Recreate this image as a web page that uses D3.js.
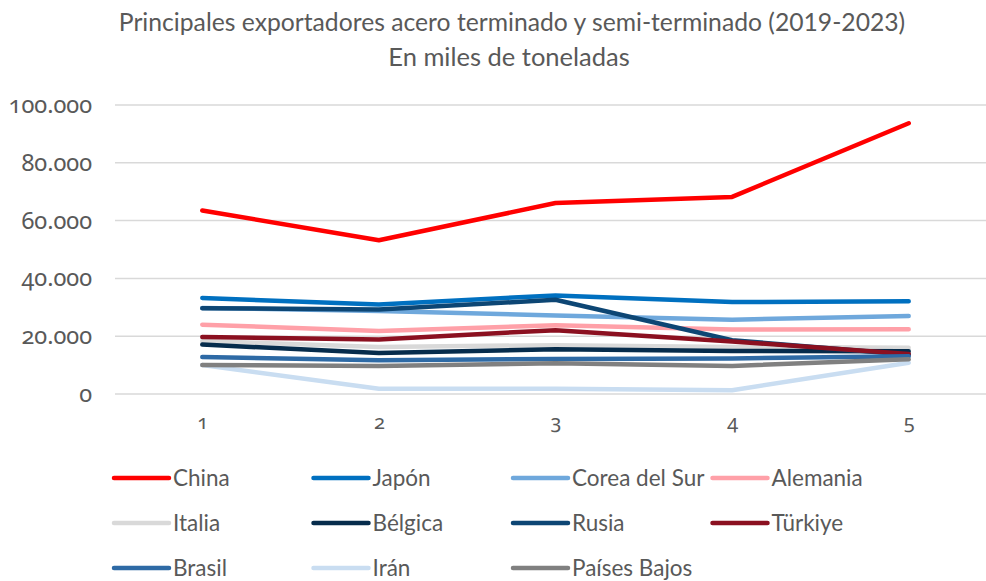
<!DOCTYPE html>
<html>
<head>
<meta charset="utf-8">
<script src="https://cdn.jsdelivr.net/npm/d3@7"></script>
<style>
  body{margin:0;background:#fff;}
  svg text{font-family:Lato,"Open Sans",sans-serif;fill:#595959;}
  svg .axis text{font-family:"Noto Sans",Lato,sans-serif;font-feature-settings:"onum" 1;font-variant-numeric:oldstyle-nums;}
</style>
</head>
<body>
<div id="svg-container"></div>
<script>
const categories=["1","2","3","4","5"];
const seriesNames=["China","Japón","Corea del Sur","Alemania","Italia","Bélgica","Rusia","Türkiye","Brasil","Irán","Países Bajos"];
const china=[63500,53200,66100,68200,93700];
const japon=[33200,31000,34100,31800,32100];
const corea=[29800,28700,27200,25700,27000];
const alemania=[24000,21800,23800,22300,22400];
const italia=[18300,16300,16900,16300,16000];
const belgica=[17100,14200,15500,14900,14800];
const rusia=[29700,29200,32600,18600,13600];
const turkiye=[19700,18900,22100,18200,13800];
const brasil=[12800,11700,12100,12300,13100];
const iran=[10000,1800,1800,1300,10800];
const paisesBajos=[10000,9700,10600,9700,12000];
const yTicks=[0,20000,40000,60000,80000,100000];

const colors=["#ff0000","#0070c0","#6fa8dc","#ffa0a8","#d9d9d9","#062c4c","#0d4674","#8b1020","#2e6aa5","#c9ddf1","#808080"];
const values=[china,japon,corea,alemania,italia,belgica,rusia,turkiye,brasil,iran,paisesBajos];

const w=986;
const h=581;

const locale=d3.formatLocale({decimal:",",thousands:".",grouping:[3],currency:["",""]});
const fmt=locale.format(",.0f");

const xScale=d3.scalePoint()
                .domain(categories)
                .range([114,997])
                .padding(0.5);
const yScale=d3.scaleLinear()
                .domain([0,100000])
                .range([394,105]);

const svg=d3.select("#svg-container")
              .append("svg")
              .attr("width",w)
              .attr("height",h);

// title
svg.append("text")
    .text("Principales exportadores acero terminado y semi-terminado (2019-2023)")
    .attr("x",512)
    .attr("y",31)
    .attr("text-anchor","middle")
    .style("font-size","24.7px");
svg.append("text")
    .text("En miles de toneladas")
    .attr("x",509)
    .attr("y",66)
    .attr("text-anchor","middle")
    .style("font-size","25.5px");

// gridlines
svg.append("g")
    .selectAll("line")
    .data(yTicks)
    .enter()
    .append("line")
    .attr("x1",115)
    .attr("x2",w)
    .attr("y1",d=>yScale(d))
    .attr("y2",d=>yScale(d))
    .attr("stroke","#d9d9d9")
    .attr("stroke-width",1.5);

// y axis labels
const yAxis=d3.axisLeft(yScale).tickValues(yTicks).tickFormat(fmt).tickSize(0).tickPadding(0);
const yG=svg.append("g")
    .attr("class","axis")
    .attr("transform","translate(92,0)")
    .call(yAxis);
yG.select(".domain").remove();
yG.selectAll("text").style("font-size","23.5px").attr("fill","#595959").attr("font-family",null);

// x axis labels
const xAxis=d3.axisBottom(xScale).tickSize(0).tickPadding(0);
const xG=svg.append("g")
    .attr("class","axis")
    .attr("transform","translate(0,415)")
    .call(xAxis);
xG.select(".domain").remove();
xG.selectAll("text").style("font-size","20px").attr("fill","#595959").attr("font-family",null);

// lines
const line=d3.line()
    .x((d,i)=>xScale(categories[i]))
    .y(d=>yScale(d));
svg.append("g")
    .selectAll("path")
    .data(values)
    .enter()
    .append("path")
    .attr("d",d=>line(d))
    .attr("fill","none")
    .attr("stroke",(d,i)=>colors[i])
    .attr("stroke-width",4.5)
    .attr("stroke-linecap","round")
    .attr("stroke-linejoin","round");

// legend
const legend=svg.append("g");
const items=legend.selectAll("g")
    .data(seriesNames)
    .enter()
    .append("g")
    .attr("transform",(d,i)=>`translate(${114+(i%4)*199.5}, ${478+Math.floor(i/4)*45})`);
items.append("line")
    .attr("x1",0)
    .attr("x2",55)
    .attr("y1",0)
    .attr("y2",0)
    .attr("stroke",(d,i)=>colors[i])
    .attr("stroke-width",4.5)
    .attr("stroke-linecap","round");
items.append("text")
    .text(d=>d)
    .attr("x",59)
    .attr("y",8)
    .style("font-size","22.5px");
</script>
</body>
</html>
